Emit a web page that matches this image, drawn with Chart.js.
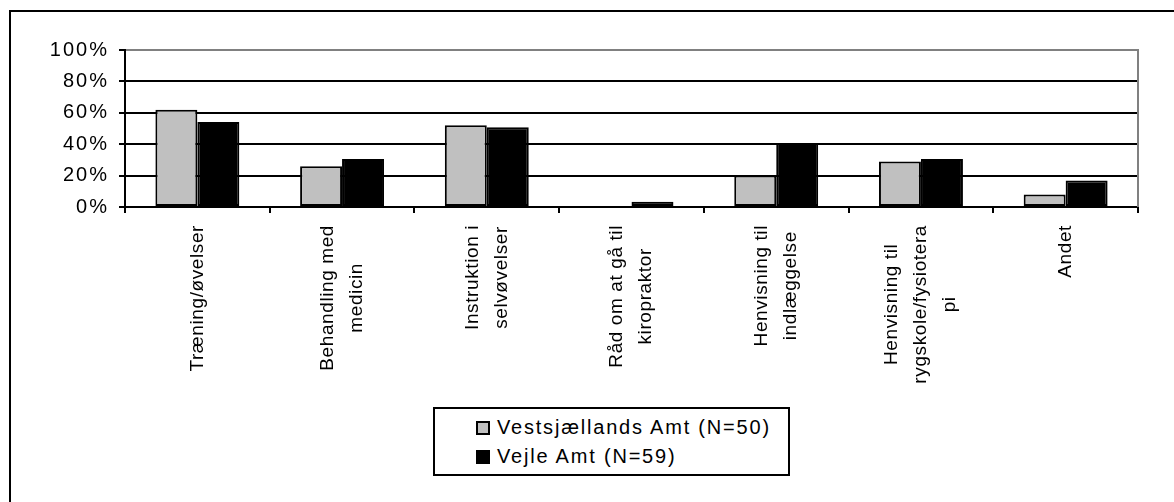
<!DOCTYPE html>
<html>
<head>
<meta charset="utf-8">
<script src="https://cdn.jsdelivr.net/npm/chart.js@4.4.1/dist/chart.umd.min.js"></script>
<style>
  html, body { margin: 0; padding: 0; background: #fff; }
  #wrap { position: relative; width: 1174px; height: 502px; overflow: hidden; }
  #frame { position: absolute; left: 9px; top: 10px; width: 1300px; height: 600px;
           border-top: 2px solid #000; border-left: 2px solid #000; }
  #chart { position: absolute; left: 0; top: 0; }
  #legend { position: absolute; left: 433px; top: 407px; width: 357px; height: 69px;
            box-sizing: border-box; border: 2px solid #000; background: #fff;
            padding: 4px 0 0 41px; font: 20px "Liberation Sans", Arial, sans-serif;
            letter-spacing: 1.8px; color: #000; }
  #legend .row { height: 29px; line-height: 29px; white-space: nowrap; }
  #legend .sw { display: inline-block; width: 14px; height: 14px; box-sizing: border-box;
                border: 2px solid #000; margin-right: 7px; vertical-align: -1px; }
</style>
</head>
<body>
<div id="wrap">
  <div id="frame"></div>
  <canvas id="chart" width="1174" height="502"></canvas>
  <div id="legend"></div>
</div>
<script>
const categories = [
  'Træning/øvelser',
  ['Behandling med', 'medicin'],
  ['Instruktion i', 'selvøvelser'],
  ['Råd om at gå til', 'kiropraktor'],
  ['Henvisning til', 'indlæggelse'],
  ['Henvisning til', 'rygskole/fysiotera', 'pi'],
  'Andet'
];
const seriesNames = ['Vestsjællands Amt (N=50)', 'Vejle Amt (N=59)'];
const vestsjaelland = [62, 26, 52, 0, 20, 29, 8];
const vejle = [54.2, 30.5, 50.8, 3.4, 40.7, 30.5, 16.9];
const yTicks = [0, 20, 40, 60, 80, 100];

const FONT_FAMILY = '"Liberation Sans", Arial, sans-serif';
const LABEL_FONT = '19px ' + FONT_FAMILY;
const LABEL_LINE = 29;

// wider letter spacing for the axis text drawn by Chart.js
const textSpacing = {
  id: 'textSpacing',
  beforeUpdate(chart) { chart.ctx.letterSpacing = '2px'; },
  beforeDraw(chart) { chart.ctx.letterSpacing = '2px'; }
};

// rotated category labels, each line centred on the longest one
const categoryLabels = {
  id: 'categoryLabels',
  afterDraw(chart) {
    const { ctx, chartArea: a, scales: { x } } = chart;
    ctx.save();
    // grey frame edge on the right of the plot
    ctx.strokeStyle = '#808080';
    ctx.lineWidth = 2;
    ctx.beginPath();
    ctx.moveTo(a.right, a.top - 1);
    ctx.lineTo(a.right, a.bottom);
    ctx.stroke();

    ctx.fillStyle = '#000';
    ctx.font = LABEL_FONT;
    ctx.letterSpacing = '0.6px';
    ctx.textAlign = 'center';
    ctx.textBaseline = 'middle';
    chart.data.labels.forEach((lab, i) => {
      const lines = Array.isArray(lab) ? lab : [lab];
      const w = Math.max(...lines.map(l => ctx.measureText(l).width));
      ctx.save();
      ctx.translate(x.getPixelForValue(i), a.bottom + 18 + w / 2);
      ctx.rotate(-Math.PI / 2);
      lines.forEach((l, j) => ctx.fillText(l, 0, (j - (lines.length - 1) / 2) * LABEL_LINE));
      ctx.restore();
    });
    ctx.restore();
  }
};

// legend as html rows under the chart
const htmlLegend = {
  id: 'htmlLegend',
  afterUpdate(chart) {
    const box = document.getElementById('legend');
    box.innerHTML = '';
    chart.data.datasets.forEach(ds => {
      const row = document.createElement('div');
      row.className = 'row';
      const sw = document.createElement('span');
      sw.className = 'sw';
      sw.style.background = ds.backgroundColor;
      row.appendChild(sw);
      row.appendChild(document.createTextNode(ds.label));
      box.appendChild(row);
    });
  }
};

new Chart(document.getElementById('chart'), {
  type: 'bar',
  data: {
    labels: categories,
    datasets: [
      { label: seriesNames[0], data: vestsjaelland, backgroundColor: '#c0c0c0' },
      { label: seriesNames[1], data: vejle, backgroundColor: '#000000' }
    ]
  },
  options: {
    responsive: false,
    animation: false,
    layout: { padding: { left: 0, top: 50, right: 36, bottom: 0 } },
    datasets: {
      bar: {
        borderColor: '#000',
        borderWidth: 2,
        borderSkipped: false,
        barPercentage: 1,
        categoryPercentage: 0.58
      }
    },
    plugins: {
      legend: { display: false },
      tooltip: { enabled: false }
    },
    scales: {
      x: {
        offset: true,
        grid: { offset: true, drawOnChartArea: false, drawTicks: true, tickLength: 6, color: '#000', lineWidth: 2 },
        border: { color: '#000', width: 2 },
        ticks: { display: false },
        afterFit(scale) { scale.height = 502 - 207; }
      },
      y: {
        min: 0,
        max: 100,
        afterBuildTicks(scale) { scale.ticks = yTicks.map(v => ({ value: v })); },
        grid: {
          color: c => (c.tick && c.tick.value === 100 ? '#808080' : '#000'),
          tickColor: '#000',
          lineWidth: 2,
          tickLength: 6
        },
        border: { color: '#000', width: 2 },
        ticks: {
          color: '#000',
          padding: 10,
          font: { family: FONT_FAMILY, size: 20 },
          callback: v => v + '%'
        },
        afterFit(scale) { scale.width = 125; }
      }
    }
  },
  plugins: [textSpacing, categoryLabels, htmlLegend]
});
</script>
</body>
</html>
